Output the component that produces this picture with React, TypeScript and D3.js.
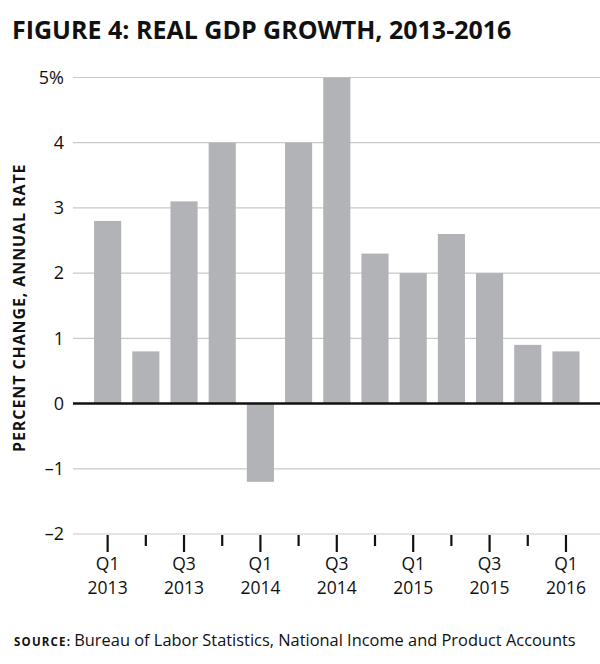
import React from "react";
import * as d3 from "d3";

const quarters = [
  "Q1 2013", "Q2 2013", "Q3 2013", "Q4 2013",
  "Q1 2014", "Q2 2014", "Q3 2014", "Q4 2014",
  "Q1 2015", "Q2 2015", "Q3 2015", "Q4 2015",
  "Q1 2016",
];
const growth = [2.8, 0.8, 3.1, 4.0, -1.2, 4.0, 5.0, 2.3, 2.0, 2.6, 2.0, 0.9, 0.8];
const yTicks = [-2, -1, 0, 1, 2, 3, 4, 5];
const yTickLabels = ["\u20132", "\u20131", "0", "1", "2", "3", "4", "5%"];
const labeledQuarters = ["Q1 2013", "Q3 2013", "Q1 2014", "Q3 2014", "Q1 2015", "Q3 2015", "Q1 2016"];

const title = "FIGURE 4: REAL GDP GROWTH, 2013-2016";
const yAxisTitle = "PERCENT CHANGE, ANNUAL RATE";
const sourceLabel = "SOURCE:";
const sourceText = "Bureau of Labor Statistics, National Income and Product Accounts";

const W = 600;
const H = 664;
const FONT = "'Open Sans', 'Noto Sans', sans-serif";

export default function App() {
  const x = d3
    .scaleBand<string>()
    .domain(quarters)
    .range([83, 590.6])
    .paddingInner(0.29)
    .paddingOuter(0.29);
  const y = d3.scaleLinear().domain([-2, 5]).range([534, 77.5]);
  const gridLeft = 73;
  const gridRight = 600;
  const bw = x.bandwidth();

  return (
    <svg
      width={W}
      height={H}
      style={{ position: "absolute", left: 0, top: 0, background: "#fff" }}
      fontFamily={FONT}
    >
      <rect x={0} y={0} width={W} height={H} fill="#fff" />
      <text x={12} y={39} fontSize={25} fontWeight={700} fill="#111">
        {title}
      </text>

      {/* gridlines */}
      {yTicks.map((t) =>
        t === 0 ? null : (
          <line
            key={"g" + t}
            x1={gridLeft}
            x2={gridRight}
            y1={y(t)}
            y2={y(t)}
            stroke="#c8c9cb"
            strokeWidth={1.2}
          />
        )
      )}

      {/* y tick labels */}
      {yTicks.map((t, i) => (
        <text
          key={"yl" + t}
          x={64}
          y={y(t)}
          dy="0.35em"
          textAnchor="end"
          fontSize={18}
          fill="#111"
        >
          {yTickLabels[i]}
        </text>
      ))}

      {/* bars */}
      {quarters.map((q, i) => {
        const v = growth[i];
        const y0 = y(0);
        const y1 = y(v);
        return (
          <rect
            key={"b" + q}
            x={x(q)}
            y={Math.min(y0, y1)}
            width={bw}
            height={Math.abs(y1 - y0)}
            fill="#b1b3b6"
          />
        );
      })}

      {/* zero line */}
      <line x1={gridLeft} x2={gridRight} y1={y(0)} y2={y(0)} stroke="#111" strokeWidth={2.4} />

      {/* x ticks */}
      {quarters.map((q) => {
        const cx = (x(q) as number) + bw / 2;
        const major = labeledQuarters.includes(q);
        return (
          <line
            key={"t" + q}
            x1={cx}
            x2={cx}
            y1={y(-2) + 1}
            y2={y(-2) + (major ? 18 : 12)}
            stroke="#111"
            strokeWidth={2.2}
          />
        );
      })}

      {/* x labels */}
      {quarters.map((q) => {
        if (!labeledQuarters.includes(q)) return null;
        const cx = (x(q) as number) + bw / 2;
        const [qq, yr] = q.split(" ");
        return (
          <g key={"xl" + q}>
            <text x={cx} y={569.5} textAnchor="middle" fontSize={17.5} fill="#111">
              {qq}
            </text>
            <text x={cx} y={593.5} textAnchor="middle" fontSize={17.5} fill="#111">
              {yr}
            </text>
          </g>
        );
      })}

      {/* y axis title */}
      <text
        transform={`translate(25, ${(y(-2) + y(5)) / 2 + 2}) rotate(-90)`}
        textAnchor="middle"
        fontSize={16}
        fontWeight={700}
        letterSpacing={0.9}
        fill="#111"
      >
        {yAxisTitle}
      </text>

      {/* source */}
      <text x={14} y={646} fill="#111">
        <tspan fontSize={11.5} fontWeight={700} letterSpacing={1.2}>
          {sourceLabel}
        </tspan>
        <tspan fontSize={16.4} dx={3}>
          {sourceText}
        </tspan>
      </text>
    </svg>
  );
}
